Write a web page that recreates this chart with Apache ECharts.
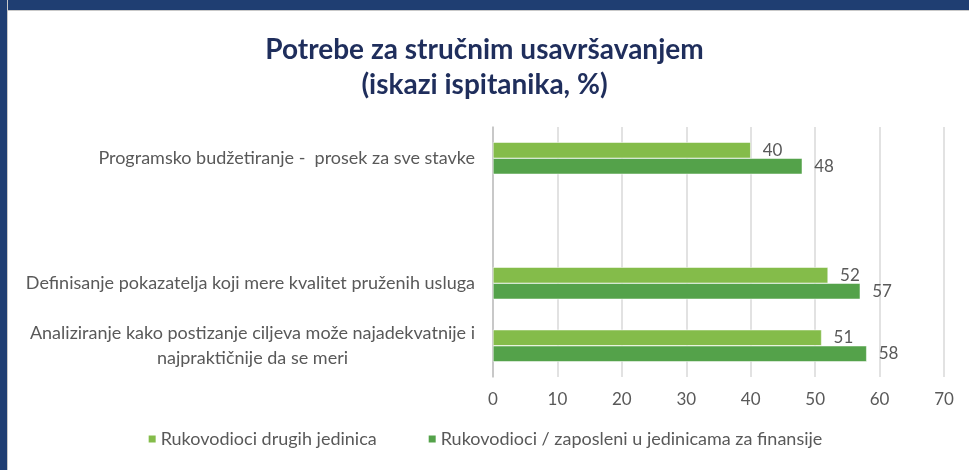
<!DOCTYPE html>
<html>
<head>
<meta charset="utf-8">
<script src="https://cdn.jsdelivr.net/npm/echarts@6/dist/echarts.min.js"></script>
<style>
  html, body { margin: 0; padding: 0; background: #fff; }
  .wrap { position: relative; width: 969px; height: 470px; overflow: hidden; }
  #chart { position: absolute; left: 0; top: 0; width: 969px; height: 470px; }
  /* okvir kao na slajdu */
  .frame-top { position: absolute; left: 0; top: 0; width: 969px; height: 10px; background: #1f3e72; border-bottom: 1px solid #c9c9c9; }
  .frame-left { position: absolute; left: 0; top: 0; width: 7px; height: 470px; background: #1f3e72; border-right: 1px solid #c9c9c9; }
</style>
</head>
<body>
<div class="wrap">
  <div id="chart"></div>
  <div class="frame-top"></div>
  <div class="frame-left"></div>
</div>
<script>
// podaci (prazna kategorija pravi razmak kao na originalu)
const categories = [
  'Programsko budžetiranje -  prosek za sve stavke',
  '',
  'Definisanje pokazatelja koji mere kvalitet pruženih usluga',
  'Analiziranje kako postizanje ciljeva može najadekvatnije i\nnajpraktičnije da se meri'
]
const seriesNames = ['Rukovodioci drugih jedinica', 'Rukovodioci / zaposleni u jedinicama za finansije']
const drugihJedinica = [40, '-', 52, 51]
const finansije = [48, '-', 57, 58]
const xTicks = [0, 10, 20, 30, 40, 50, 60, 70]

const colors = ['#84bc4a', '#54a24a']
const textGray = '#595959'
const font = 'Lato, "Open Sans", sans-serif'

const chart = echarts.init(document.getElementById('chart'))

const makeSeries = (name, data, color) => ({
  name,
  type: 'bar',
  data,
  barWidth: 16,
  barGap: '0%',
  itemStyle: { color, borderColor: '#fff', borderWidth: 0.5 },
  label: {
    show: true,
    position: 'right',
    distance: 12,
    color: textGray,
    fontSize: 17,
    fontFamily: font
  }
})

chart.setOption({
  animation: false,
  textStyle: { fontFamily: font },
  title: {
    text: 'Potrebe za stručnim usavršavanjem\n(iskazi ispitanika, %)',
    left: 'center',
    top: 27,
    textStyle: {
      fontSize: 28,
      fontWeight: 'bold',
      color: '#1f2e5c',
      lineHeight: 35,
      fontFamily: font
    }
  },
  legend: {
    bottom: 17,
    left: 'center',
    itemWidth: 9,
    itemHeight: 9,
    itemGap: 50,
    icon: 'rect',
    textStyle: { fontSize: 18, color: textGray, fontFamily: font, padding: [0, 0, 0, -1] },
    data: seriesNames
  },
  grid: { left: 493, right: 25, top: 127, bottom: 93, containLabel: false },
  xAxis: {
    type: 'value',
    min: xTicks[0],
    max: xTicks[xTicks.length - 1],
    interval: 10,
    axisLine: { show: false },
    axisTick: { show: false },
    axisLabel: { color: textGray, fontSize: 17, margin: 14, fontFamily: font },
    splitLine: { lineStyle: { color: '#d9d9d9', width: 1.5 } }
  },
  yAxis: {
    type: 'category',
    inverse: true,
    data: categories,
    axisLine: { show: true, lineStyle: { color: '#bfbfbf', width: 1.5 } },
    axisTick: { show: false },
    axisLabel: {
      margin: 18,
      color: textGray,
      fontSize: 18,
      fontFamily: font,
      lineHeight: 25,
      formatter: (v) => v.split('\n').map(s => '{c|' + s + '}').join('\n'),
      rich: { c: { align: 'center', color: textGray, fontSize: 18, fontFamily: font, lineHeight: 25 } }
    }
  },
  series: [
    makeSeries(seriesNames[0], drugihJedinica, colors[0]),
    makeSeries(seriesNames[1], finansije, colors[1])
  ]
})

window.addEventListener('resize', () => chart.resize())
</script>
</body>
</html>
